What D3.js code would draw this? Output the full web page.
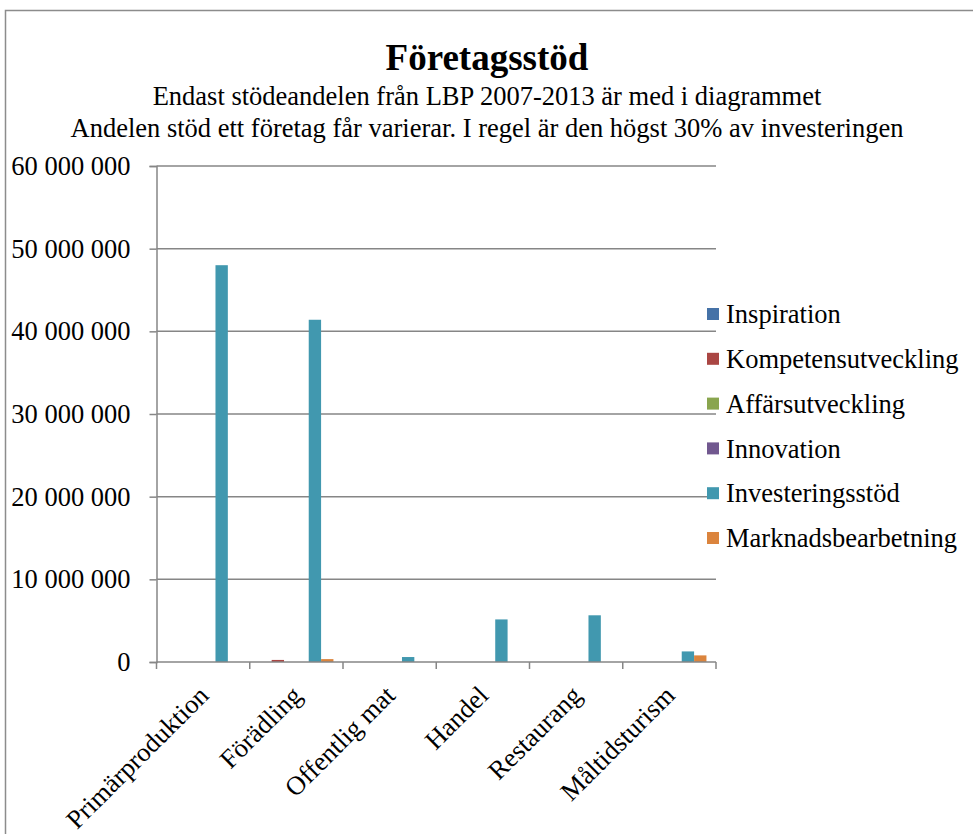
<!DOCTYPE html>
<html>
<head>
<meta charset="utf-8">
<script src="https://cdn.jsdelivr.net/npm/d3@7"></script>
<style>
body { margin: 0; background: #fff; }
svg { display: block; font-family: "Liberation Serif", "DejaVu Serif", serif; }
</style>
</head>
<body>
<svg id="chart" width="973" height="834"></svg>
<script>
// Företagsstöd - stöd per område och typ
var categories = ["Primärproduktion", "Förädling", "Offentlig mat", "Handel", "Restaurang", "Måltidsturism"];
var seriesNames = ["Inspiration", "Kompetensutveckling", "Affärsutveckling", "Innovation", "Investeringsstöd", "Marknadsbearbetning"];
var inspiration = [0, 0, 0, 0, 0, 0];
var kompetens = [0, 250000, 0, 0, 0, 0];
var affars = [0, 0, 0, 0, 0, 0];
var innovation = [0, 0, 0, 0, 0, 0];
var investering = [48000000, 41400000, 600000, 5150000, 5650000, 1280000];
var marknad = [0, 350000, 0, 0, 0, 800000];
var yTicks = [0, 10000000, 20000000, 30000000, 40000000, 50000000, 60000000];
var colors = ["#4572A7", "#AA4643", "#89A54E", "#71588F", "#4198AF", "#DB843D"];

var allSeries = [inspiration, kompetens, affars, innovation, investering, marknad];

var svg = d3.select("#chart");
var plotLeft = 156.5, plotRight = 716, plotTop = 166, plotBottom = 662;
var fontSize = "26.5px";

// yttre ram
svg.append("rect")
    .attr("x", 5.5).attr("y", 10.5)
    .attr("width", 1000).attr("height", 900)
    .attr("fill", "none")
    .attr("stroke", "#8c8c8c")
    .attr("stroke-width", 1.5);

svg.append("text")
    .attr("x", 487).attr("y", 70)
    .attr("text-anchor", "middle")
    .style("font-size", "37px").style("font-weight", "bold")
    .text("Företagsstöd");
svg.append("text")
    .attr("x", 487).attr("y", 105)
    .attr("text-anchor", "middle")
    .style("font-size", fontSize)
    .text("Endast stödeandelen från LBP 2007-2013 är med i diagrammet");
svg.append("text")
    .attr("x", 487).attr("y", 137)
    .attr("text-anchor", "middle")
    .style("font-size", fontSize)
    .text("Andelen stöd ett företag får varierar. I regel är den högst 30% av investeringen");

var x0 = d3.scaleBand().domain(categories).range([plotLeft, plotRight]).padding(0);
var gap = x0.bandwidth() * 0.205;
var x1 = d3.scaleBand().domain(d3.range(seriesNames.length))
    .range([gap / 2, x0.bandwidth() - gap / 2]).padding(0);
var y = d3.scaleLinear().domain([0, 60000000]).range([plotBottom, plotTop]);

// stödlinjer
svg.append("g")
    .selectAll("line")
    .data(yTicks.filter(d => d > 0))
    .join("line")
    .attr("x1", plotLeft).attr("x2", plotRight)
    .attr("y1", d => y(d)).attr("y2", d => y(d))
    .attr("stroke", "#868686")
    .attr("stroke-width", 1.5);

// staplar
allSeries.forEach(function (vals, si) {
    svg.append("g")
        .selectAll("rect")
        .data(vals.map((v, i) => ({ cat: categories[i], v: v })).filter(d => d.v > 0))
        .join("rect")
        .attr("x", d => x0(d.cat) + x1(si))
        .attr("y", d => y(d.v))
        .attr("width", x1.bandwidth())
        .attr("height", d => plotBottom - y(d.v))
        .attr("fill", colors[si]);
});

var fmt = d => d3.format(",")(d).replace(/,/g, " ");

var yAxis = d3.axisLeft(y).tickValues(yTicks).tickSize(7).tickPadding(19).tickFormat(fmt);
var gy = svg.append("g").attr("transform", "translate(" + plotLeft + ",0)").call(yAxis);
gy.select(".domain").attr("stroke", "#868686").attr("stroke-width", 1.5);
gy.selectAll(".tick line").attr("stroke", "#868686").attr("stroke-width", 1.5);
gy.selectAll(".tick text")
    .style("font-size", fontSize)
    .style("font-family", "Liberation Serif, serif")
    .attr("fill", "#000");

// x-axel
svg.append("line")
    .attr("x1", plotLeft).attr("x2", plotRight)
    .attr("y1", plotBottom).attr("y2", plotBottom)
    .attr("stroke", "#868686").attr("stroke-width", 1.5);
svg.append("g")
    .selectAll("line")
    .data(d3.range(categories.length + 1))
    .join("line")
    .attr("x1", i => plotLeft + i * x0.bandwidth())
    .attr("x2", i => plotLeft + i * x0.bandwidth())
    .attr("y1", plotBottom).attr("y2", plotBottom + 7)
    .attr("stroke", "#868686").attr("stroke-width", 1.5);

svg.append("g")
    .selectAll("text")
    .data(categories)
    .join("text")
    .attr("transform", d => "translate(" + (x0(d) + x0.bandwidth() / 2 + 7) + "," + (plotBottom + 35) + ") rotate(-45)")
    .attr("text-anchor", "end")
    .style("font-size", fontSize)
    .text(d => d);

// förklaring
var legend = svg.append("g")
    .selectAll("g")
    .data(seriesNames)
    .join("g")
    .attr("transform", (d, i) => "translate(707," + (314 + i * 44.8) + ")");
legend.append("rect")
    .attr("x", 0).attr("y", -6)
    .attr("width", 12).attr("height", 12)
    .attr("fill", (d, i) => colors[i]);
legend.append("text")
    .attr("x", 19).attr("y", 0)
    .attr("dy", "0.35em")
    .style("font-size", fontSize)
    .text(d => d);
</script>
</body>
</html>
